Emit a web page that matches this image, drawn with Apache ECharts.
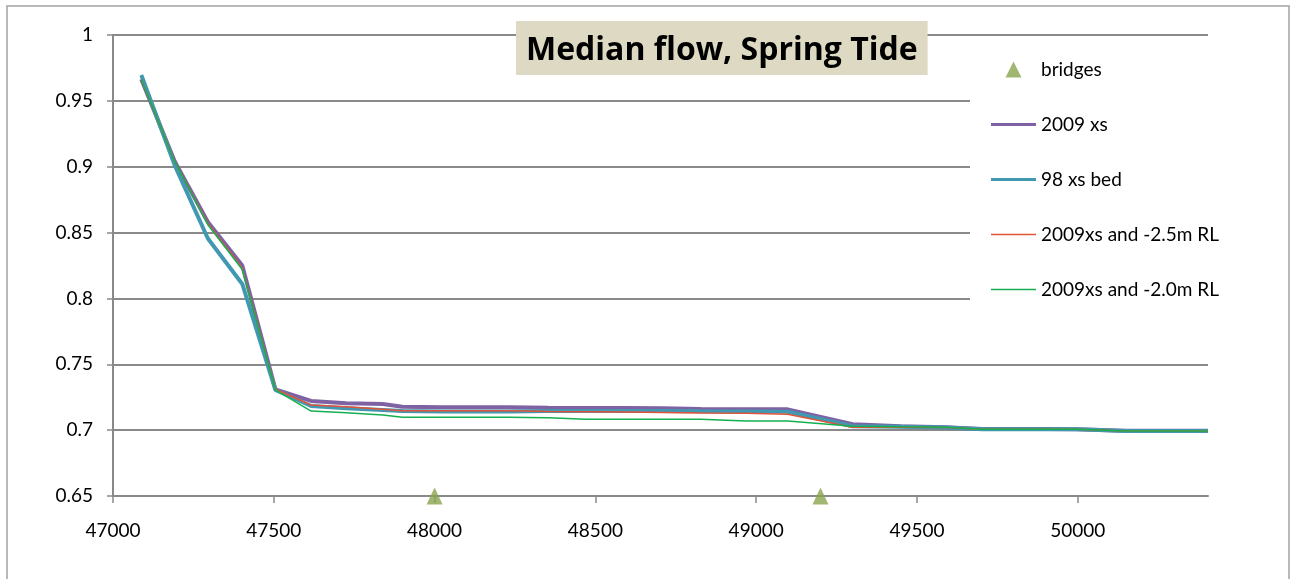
<!DOCTYPE html>
<html>
<head>
<meta charset="utf-8">
<script src="https://cdn.jsdelivr.net/npm/echarts@6/dist/echarts.min.js"></script>
<style>
html,body{margin:0;padding:0;background:#fff;}
#c{width:1290px;height:579px;}
</style>
</head>
<body>
<div id="c"></div>
<script>
// ---- data ----
const chainage = [47088, 47192, 47295, 47402, 47505, 47616, 47725, 47839, 47900, 48025, 48129, 48230, 48354, 48471, 48590, 48708, 48828, 48968, 49098, 49300, 49450, 49590, 49704, 49796, 49900, 49997, 50149, 50305, 50405];
const xs2009 =     [0.9665, 0.904, 0.858, 0.825, 0.731, 0.7222, 0.7204, 0.7198, 0.7178, 0.7173, 0.7173, 0.7173, 0.7170, 0.7168, 0.7168, 0.7166, 0.7160, 0.7158, 0.7158, 0.7045, 0.7030, 0.7022, 0.7008, 0.7008, 0.7008, 0.7007, 0.6995, 0.6995, 0.6995];
const xs98bed =    [0.9696, 0.901, 0.8455, 0.811, 0.7305, 0.7183, 0.7166, 0.7153, 0.7145, 0.7142, 0.7142, 0.7142, 0.7145, 0.7145, 0.7145, 0.7145, 0.7143, 0.7142, 0.7140, 0.7030, 0.7025, 0.7020, 0.7006, 0.7006, 0.7006, 0.7006, 0.6993, 0.6993, 0.6993];
const rl25 =       [0.9660, 0.904, 0.857, 0.823, 0.731, 0.7191, 0.7178, 0.7158, 0.7148, 0.7148, 0.7148, 0.7148, 0.7141, 0.7140, 0.7137, 0.7134, 0.7130, 0.7128, 0.7120, 0.7022, 0.7022, 0.7020, 0.7006, 0.7006, 0.7006, 0.7006, 0.6993, 0.6993, 0.6993];
const rl20 =       [0.9660, 0.904, 0.856, 0.822, 0.7305, 0.7145, 0.7132, 0.7115, 0.7097, 0.7097, 0.7097, 0.7097, 0.7095, 0.7082, 0.7082, 0.7082, 0.7082, 0.7069, 0.7069, 0.7030, 0.7025, 0.7022, 0.7006, 0.7006, 0.7006, 0.7006, 0.6993, 0.6993, 0.6993];
const bridgeX = [48000, 49200];
const bridgeY = [0.65, 0.65];
const seriesNames = ['bridges', '2009 xs', '98 xs bed', '2009xs and -2.5m RL', '2009xs and -2.0m RL'];
const xTicks = {min: 47000, max: 50405, interval: 500};
const yTicks = {min: 0.65, max: 1, interval: 0.05};
const titleText = 'Median flow, Spring Tide';

// ---- chart ----
const zip = (xa, ya) => xa.map((x, i) => [x, ya[i]]);
const FONT = 'Lato';
const chart = echarts.init(document.getElementById('c'), null, {renderer: 'canvas'});
const colors = {purple: '#7e62a3', cyan: '#4398b1', red: '#e2533b', green: '#14b050', tri: '#8aa54e'};
function lineSeries(name, data, color, width) {
  return {
    name, type: 'line', data, symbol: 'none', showSymbol: false,
    lineStyle: {color, width}, itemStyle: {color},
    animation: false, emphasis: {disabled: true}
  };
}
chart.setOption({
  animation: false,
  backgroundColor: '#fff',
  graphic: [{
    type: 'rect', shape: {x: 7, y: 6, width: 1282, height: 620},
    style: {fill: 'none', stroke: '#a3a3a3', lineWidth: 1.5}, z: -10, silent: true
  }],
  title: {
    text: titleText, left: 516, top: 21,
    backgroundColor: '#ddd9c3', padding: [13, 10, 7, 10],
    textStyle: {fontFamily: 'Open Sans', fontSize: 32, fontWeight: 'bold', color: '#000', lineHeight: 34}
  },
  grid: {left: 113, right: 82, top: 35, bottom: 83, containLabel: false},
  legend: {
    orient: 'vertical', left: 970, top: 44,
    padding: [16, 10, 24, 21],
    backgroundColor: '#fff',
    itemWidth: 45, itemHeight: 16, itemGap: 36,
    textStyle: {fontFamily: FONT, fontSize: 19, color: '#000', lineHeight: 16},
    data: [
      {name: seriesNames[0], icon: 'path://M8,0L16,16L0,16Z', itemStyle: {borderWidth: 0}},
      {name: seriesNames[1], icon: 'path://M0,0H45V3H0Z', itemStyle: {borderWidth: 0}},
      {name: seriesNames[2], icon: 'path://M0,0H45V3H0Z', itemStyle: {borderWidth: 0}},
      {name: seriesNames[3], icon: 'path://M0,0H45V1.5H0Z', itemStyle: {borderWidth: 0}},
      {name: seriesNames[4], icon: 'path://M0,0H45V1.5H0Z', itemStyle: {borderWidth: 0}}
    ]
  },
  xAxis: {
    type: 'value', min: xTicks.min, max: xTicks.max, interval: xTicks.interval,
    axisLine: {lineStyle: {color: '#898989', width: 2}},
    axisTick: {show: true, length: 7, lineStyle: {color: '#898989', width: 1.5}},
    axisLabel: {fontFamily: FONT, fontSize: 19, color: '#000', margin: 25, showMaxLabel: false,
      formatter: v => (v % 500 === 0 ? String(v) : '')},
    splitLine: {show: false}
  },
  yAxis: {
    type: 'value', min: yTicks.min, max: yTicks.max, interval: yTicks.interval,
    axisLine: {show: true, lineStyle: {color: '#898989', width: 2}},
    axisTick: {show: true, length: 6, lineStyle: {color: '#898989', width: 1.5}},
    axisLabel: {fontFamily: FONT, fontSize: 19, color: '#000', margin: 20,
      formatter: v => String(parseFloat(v.toFixed(2)))},
    splitLine: {show: true, lineStyle: {color: '#898989', width: 2}}
  },
  series: [
    {
      name: seriesNames[0], type: 'scatter', data: zip(bridgeX, bridgeY),
      symbol: 'triangle', symbolSize: [16, 17], clip: false, z: 5,
      itemStyle: {color: colors.tri}, emphasis: {disabled: true}
    },
    lineSeries(seriesNames[1], zip(chainage, xs2009), colors.purple, 4),
    lineSeries(seriesNames[2], zip(chainage, xs98bed), colors.cyan, 4),
    lineSeries(seriesNames[3], zip(chainage, rl25), colors.red, 1.5),
    lineSeries(seriesNames[4], zip(chainage, rl20), colors.green, 1.5)
  ]
});
</script>
</body>
</html>
